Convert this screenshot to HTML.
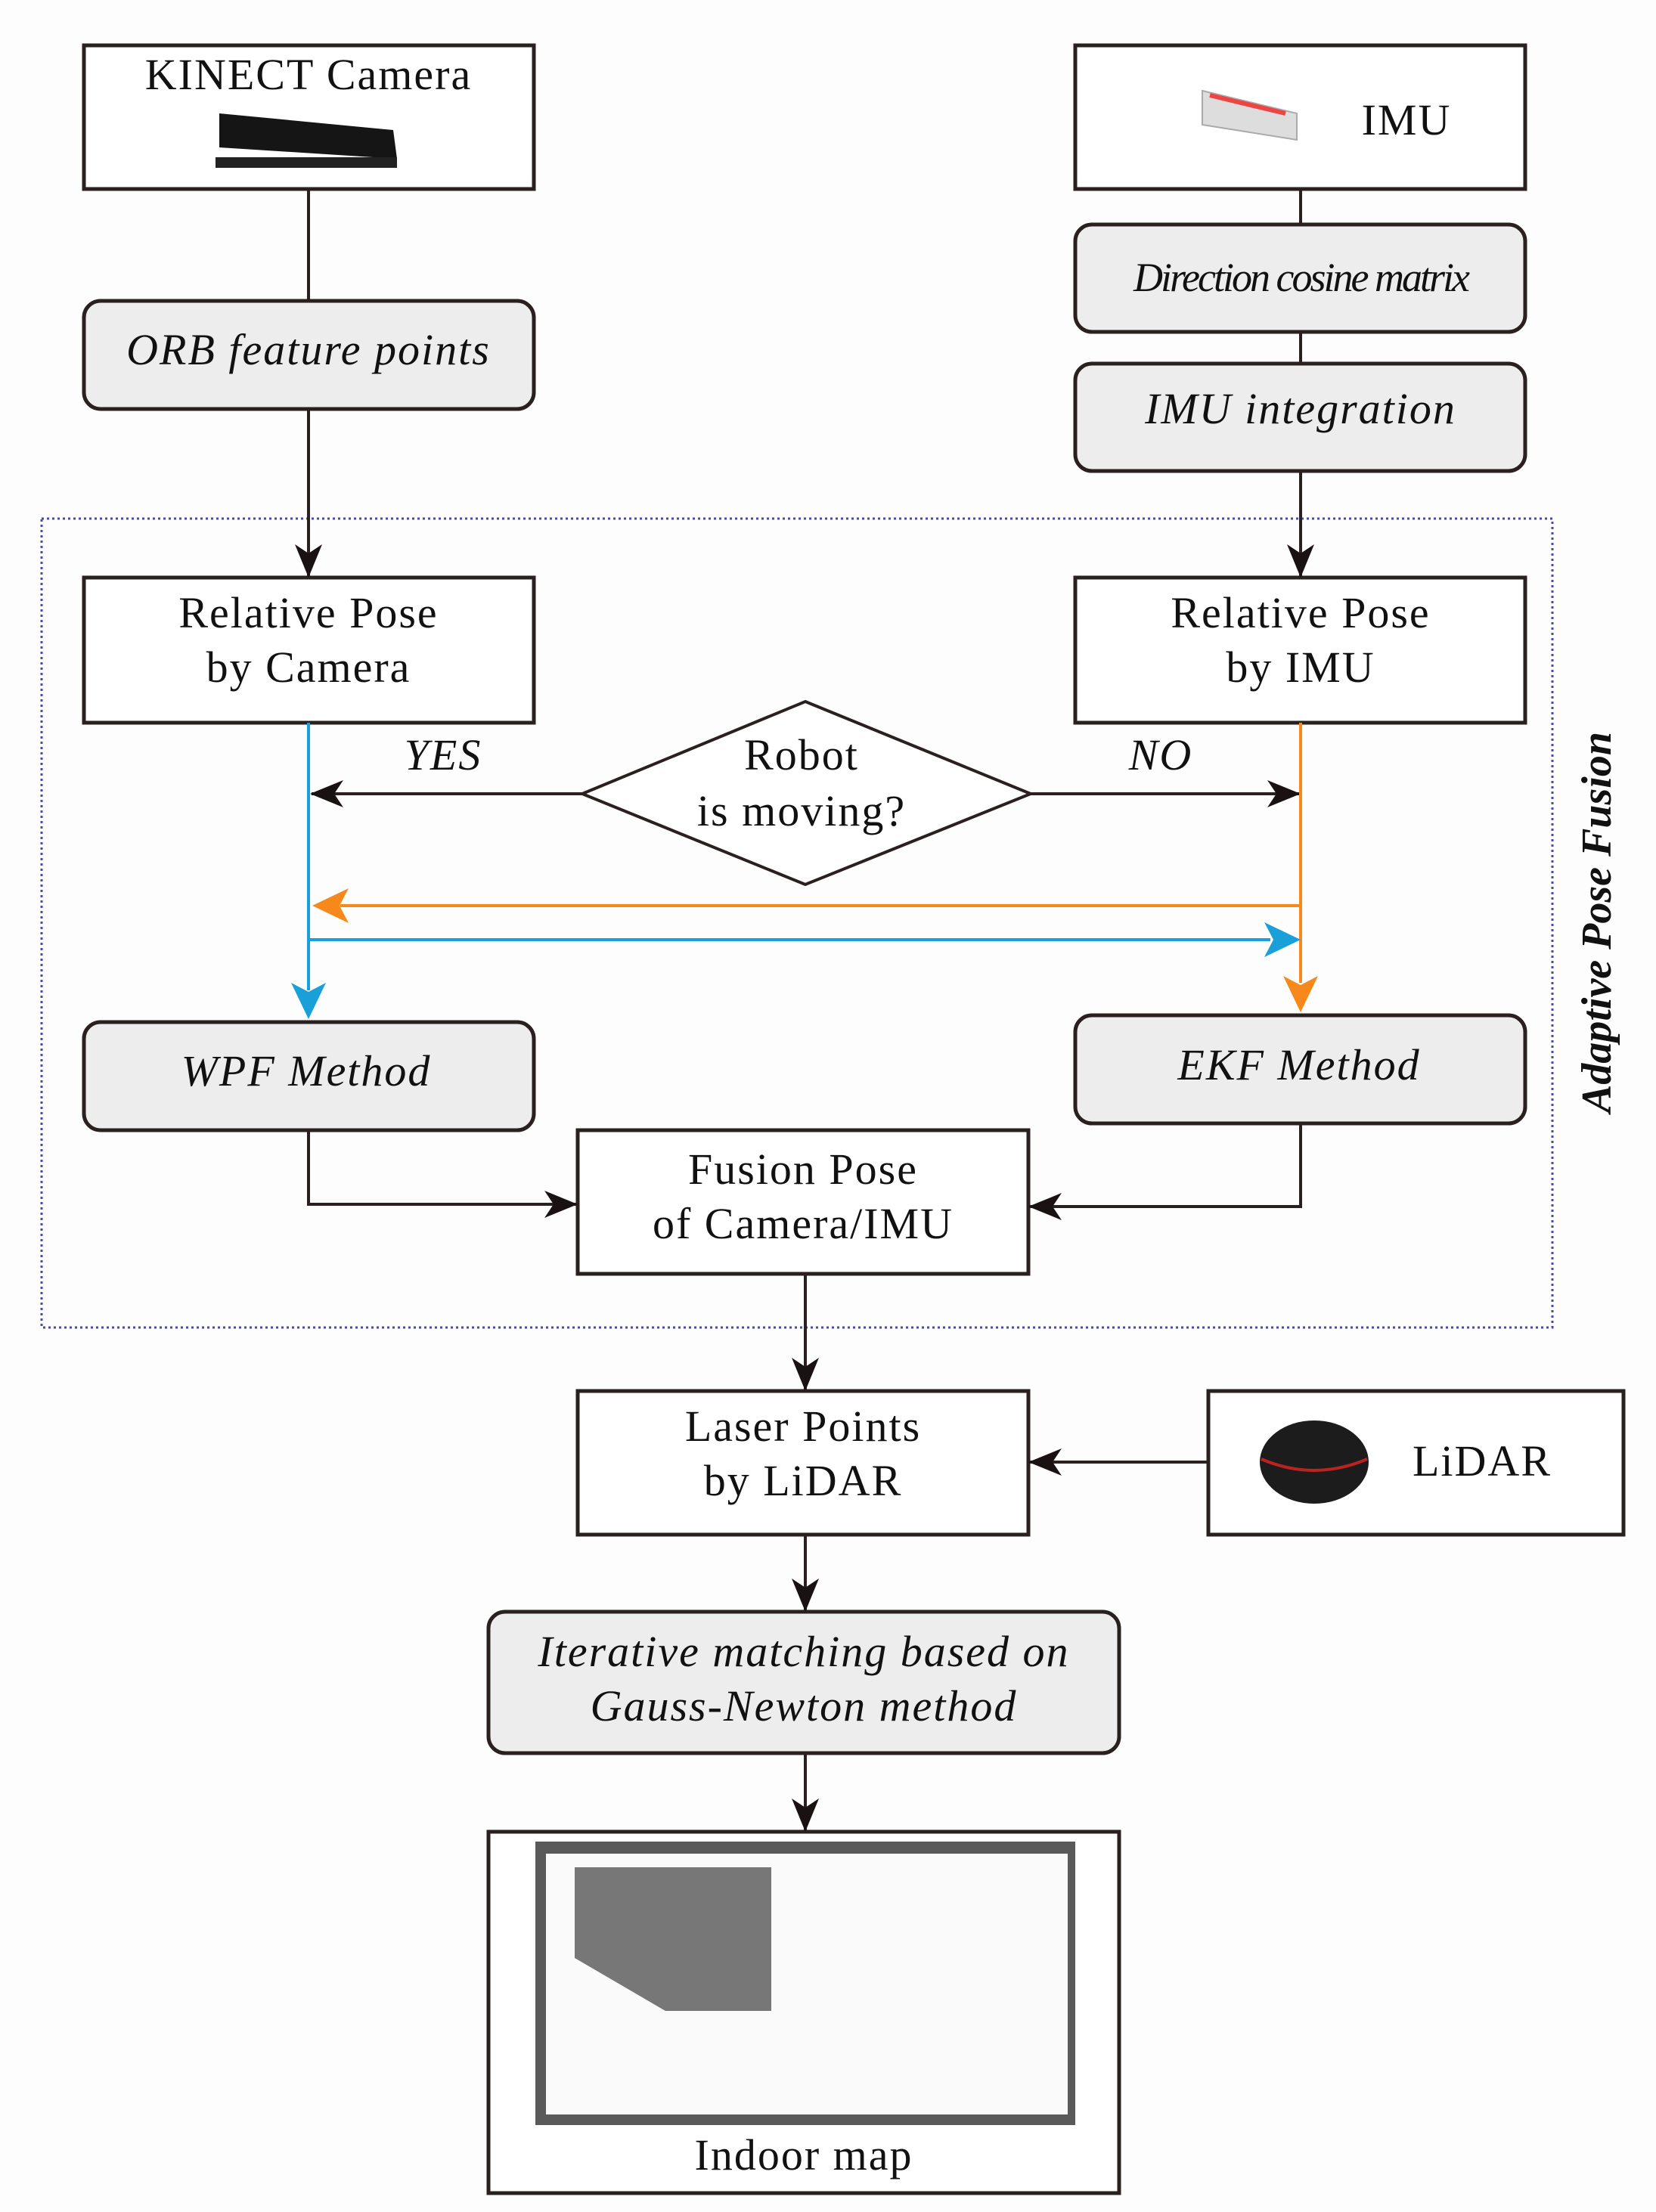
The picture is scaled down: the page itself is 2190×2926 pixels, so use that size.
<!DOCTYPE html>
<html><head><meta charset="utf-8"><style>
html,body{margin:0;padding:0;background:#fdfdfd;}
svg{display:block;}
text{font-family:"Liberation Serif",serif;fill:#111;}
</style></head><body>
<svg width="2190" height="2926" viewBox="0 0 2190 2926" xmlns="http://www.w3.org/2000/svg">
<defs>
<marker id="ab" markerWidth="44" markerHeight="36" refX="42" refY="18" orient="auto" markerUnits="userSpaceOnUse" viewBox="0 0 44 36"><path d="M0,0 L44,18 L0,36 L12,18z" fill="#1a1212"/></marker>
</defs>
<rect width="2190" height="2926" fill="#fdfdfd"/>
<rect x="55" y="686" width="1998" height="1070" fill="none" stroke="#4a4aa8" stroke-width="3" stroke-dasharray="3,4"/>
<text transform="translate(2130,1220) rotate(-90)" text-anchor="middle" font-size="56" font-style="italic" font-weight="bold">Adaptive Pose Fusion</text>

<g stroke="#2a2020" stroke-width="5" fill="none">
<rect x="111" y="60" width="595" height="190" fill="#fff"/>
<rect x="1422" y="60" width="595" height="190" fill="#fff"/>
<rect x="111" y="398" width="595" height="143" rx="22" fill="#ededed"/>
<rect x="1422" y="297" width="595" height="142" rx="22" fill="#ededed"/>
<rect x="1422" y="481" width="595" height="142" rx="22" fill="#ededed"/>
<rect x="111" y="764" width="595" height="192" fill="#fff"/>
<rect x="1422" y="764" width="595" height="192" fill="#fff"/>
<rect x="111" y="1352" width="595" height="143" rx="22" fill="#ededed"/>
<rect x="1422" y="1343" width="595" height="143" rx="22" fill="#ededed"/>
<rect x="764" y="1495" width="596" height="190" fill="#fff"/>
<rect x="764" y="1840" width="596" height="190" fill="#fff"/>
<rect x="1598" y="1840" width="549" height="190" fill="#fff"/>
<rect x="646" y="2132" width="834" height="187" rx="22" fill="#ededed"/>
<rect x="646" y="2423" width="834" height="478" fill="#fff"/>
</g>
<g stroke="#2a2020" stroke-width="4" fill="none">
<line x1="408" y1="250" x2="408" y2="398"/>
<line x1="408" y1="541" x2="408" y2="762" marker-end="url(#ab)"/>
<line x1="1720" y1="250" x2="1720" y2="297"/>
<line x1="1720" y1="439" x2="1720" y2="481"/>
<line x1="1720" y1="623" x2="1720" y2="762" marker-end="url(#ab)"/>
<line x1="770" y1="1050" x2="412" y2="1050" marker-end="url(#ab)"/>
<line x1="1363" y1="1050" x2="1718" y2="1050" marker-end="url(#ab)"/>
<polyline points="408,1495 408,1593 762,1593" marker-end="url(#ab)"/>
<polyline points="1720,1486 1720,1596 1362,1596" marker-end="url(#ab)"/>
<line x1="1065" y1="1685" x2="1065" y2="1838" marker-end="url(#ab)"/>
<line x1="1598" y1="1934" x2="1362" y2="1934" marker-end="url(#ab)"/>
<line x1="1065" y1="2030" x2="1065" y2="2130" marker-end="url(#ab)"/>
<line x1="1065" y1="2319" x2="1065" y2="2421" marker-end="url(#ab)"/>
</g>
<polygon points="1065,928 1363,1050 1065,1170 770,1050" fill="#fff" stroke="#2a2020" stroke-width="4"/>
<g fill="none" stroke-width="4">
<line x1="408" y1="956" x2="408" y2="1310" stroke="#1aa0d8"/>
<line x1="408" y1="1243" x2="1680" y2="1243" stroke="#1aa0d8"/>
<line x1="1720" y1="956" x2="1720" y2="1300" stroke="#f7891c"/>
<line x1="1720" y1="1198" x2="450" y2="1198" stroke="#f7891c"/>
</g>
<path d="M385,1300 L408,1348 L431,1300 L408,1312z" fill="#1aa0d8"/>
<path d="M1672,1220 L1720,1243 L1672,1266 L1684,1243z" fill="#1aa0d8"/>
<path d="M1697,1291 L1720,1339 L1743,1291 L1720,1303z" fill="#f7891c"/>
<path d="M461,1175 L413,1198 L461,1221 L449,1198z" fill="#f7891c"/>
<g>
<path d="M290,150 L520,172 L525,210 L290,195z" fill="#151515"/>
<rect x="285" y="208" width="240" height="14" fill="#222"/>
<path d="M1590,120 L1715,150 L1715,185 L1590,165z" fill="#ddd" stroke="#aaa" stroke-width="2"/>
<path d="M1600,126 L1700,150" stroke="#e44" stroke-width="6"/>
<ellipse cx="1738" cy="1934" rx="72" ry="55" fill="#1c1c1c"/>
<path d="M1668,1930 Q1738,1960 1808,1930" stroke="#b22" stroke-width="4" fill="none"/>
<rect x="708" y="2436" width="714" height="375" fill="#5a5a5a"/>
<rect x="722" y="2452" width="690" height="345" fill="#fafafa"/>
<polygon points="760,2470 1020,2470 1020,2660 880,2660 760,2590" fill="#777"/>
</g>
<g font-size="58" text-anchor="middle" letter-spacing="2">
<text x="408" y="118">KINECT Camera</text>
<text x="1860" y="178">IMU</text>
<text x="408" y="482" font-style="italic">ORB feature points</text>
<text x="1720" y="385" font-style="italic" font-size="54" letter-spacing="-3">Direction cosine matrix</text>
<text x="1720" y="560" font-style="italic">IMU integration</text>
<text x="408" y="830">Relative Pose</text>
<text x="408" y="902">by Camera</text>
<text x="1720" y="830">Relative Pose</text>
<text x="1720" y="902">by IMU</text>
<text x="1060" y="1018">Robot</text>
<text x="1060" y="1092">is moving?</text>
<text x="586" y="1018" font-style="italic">YES</text>
<text x="1535" y="1018" font-style="italic">NO</text>
<text x="405" y="1436" font-style="italic">WPF Method</text>
<text x="1718" y="1428" font-style="italic">EKF Method</text>
<text x="1062" y="1566">Fusion Pose</text>
<text x="1062" y="1638">of Camera/IMU</text>
<text x="1062" y="1906">Laser Points</text>
<text x="1062" y="1978">by LiDAR</text>
<text x="1960" y="1952">LiDAR</text>
<text x="1063" y="2204" font-style="italic">Iterative matching based on</text>
<text x="1063" y="2276" font-style="italic">Gauss-Newton method</text>
<text x="1063" y="2870">Indoor map</text>
</g>
</svg>
</body></html>
